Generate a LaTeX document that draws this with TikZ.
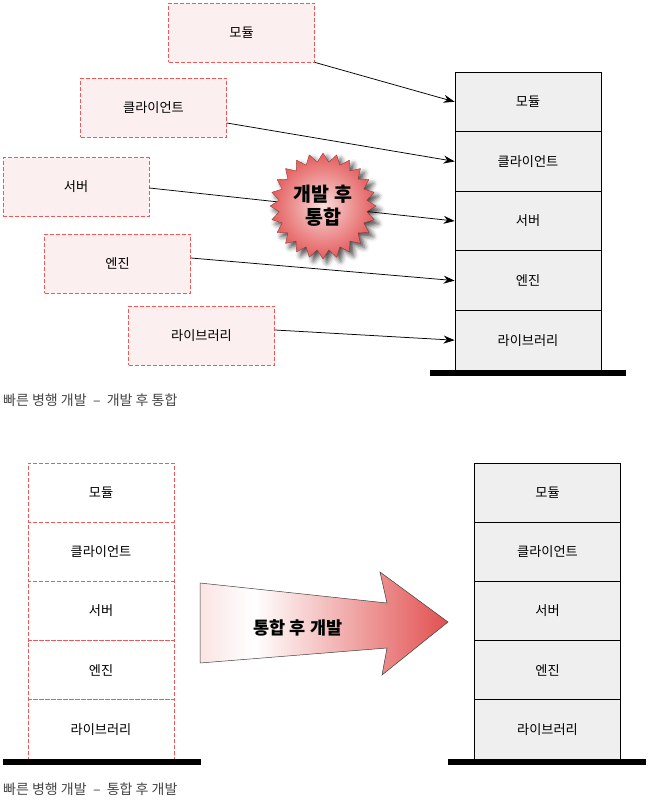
\documentclass[tikz,border=0pt]{standalone}
\usepackage{fontspec}
\setmainfont{Noto Sans CJK KR}
\usetikzlibrary{shadows.blur,arrows.meta,shapes.geometric}
\definecolor{dashred}{RGB}{235,90,90}
\definecolor{pinkfill}{RGB}{252,239,239}
\definecolor{cellgray}{RGB}{239,239,239}
\definecolor{capgray}{RGB}{70,70,70}
\definecolor{burstred}{RGB}{226,80,80}
\definecolor{arrowleft}{RGB}{251,228,228}
\definecolor{burstin}{RGB}{250,222,222}
\definecolor{burstout}{RGB}{228,92,92}
\pgfdeclarehorizontalshading{arrowshade}{100bp}{color(0bp)=(arrowleft); color(25bp)=(arrowleft); color(36bp)=(white); color(75bp)=(burstred); color(100bp)=(burstred)}
\pgfdeclareradialshading{burstshade}{\pgfpointorigin}{color(0bp)=(burstin); color(8bp)=(burstin!65!burstout); color(25bp)=(burstout); color(50bp)=(burstout)}
\begin{document}
\begin{tikzpicture}[x=1pt,y=-1pt,
  txt/.style={font=\fontsize{13.2}{15}\selectfont},
  devbox/.style={draw=dashred, dash pattern=on 4pt off 2pt, fill=pinkfill, line width=0.8pt, minimum width=146pt, minimum height=59pt, inner sep=0pt, txt},
  cell/.style={draw=black, fill=cellgray, line width=0.8pt, minimum width=146pt, minimum height=59.6pt, inner sep=0pt, txt},
  dcell/.style={draw=dashred, dash pattern=on 4pt off 2pt, fill=white, line width=0.8pt, minimum width=146pt, minimum height=59.2pt, inner sep=0pt, txt},
  bcell/.style={cell, minimum height=59.2pt},
  link/.style={-{Stealth[length=11pt,width=8pt]}, line width=0.75pt},
  basebar/.style={fill=black, draw=none, minimum width=196pt, minimum height=5.5pt, inner sep=0pt},
  caption/.style={font=\fontsize{14}{16}\selectfont, text=capgray, anchor=west, inner sep=0pt}]
\useasboundingbox (0,0) rectangle (652,803);

% ---------- top: develop then integrate ----------
\node[devbox] (m1) at (241.5,32.5) {모듈};
\node[devbox] (c1) at (153.5,107.5) {클라이언트};
\node[devbox] (v1) at (76,187) {서버};
\node[devbox] (e1) at (117.5,263.5) {엔진};
\node[devbox] (l1) at (201.5,335.5) {라이브러리};

\node[cell] (s1) at (528,101.8) {모듈};
\node[cell] (s2) at (528,161.4) {클라이언트};
\node[cell] (s3) at (528,221) {서버};
\node[cell] (s4) at (528,280.6) {엔진};
\node[cell] (s5) at (528,340.2) {라이브러리};
\node[basebar] (bar1) at (528,372.8) {};

\draw[link] (m1.south east) -- (s1.west);
\draw[link] ([yshift=-15.5pt]c1.east) -- (s2.west);
\draw[link] ([yshift=-1pt]v1.east) -- (s3.west);
\draw[link] ([yshift=5.5pt]e1.east) -- (s4.west);
\draw[link] ([yshift=5.5pt]l1.east) -- (s5.west);

\node[star, star points=24, star point ratio=1.2, minimum size=106pt, inner sep=0pt,
      shading=burstshade, draw=burstred!60!black, line width=0.3pt,
      blur shadow={shadow xshift=4pt, shadow yshift=-4pt, shadow blur radius=5pt, shadow opacity=70},
      font=\bfseries\fontsize{19.5}{23}\selectfont, align=center] (burst) at (323,206) {개발 후\\통합};

\node[caption] (cap1) at (3,400.5) {빠른 병행 개발~~–~~개발 후 통합};

% ---------- bottom: integrate then develop ----------
\node[dcell] (d1) at (101,492.6) {모듈};
\node[dcell] (d2) at (101,551.8) {클라이언트};
\node[dcell] (d3) at (101,611) {서버};
\node[dcell] (d4) at (101,670.2) {엔진};
\node[dcell] (d5) at (101,729.4) {라이브러리};
\node[basebar, minimum width=198pt] (bar2) at (102,762) {};

\node[bcell] (r1) at (547.5,492.6) {모듈};
\node[bcell] (r2) at (547.5,551.8) {클라이언트};
\node[bcell] (r3) at (547.5,611) {서버};
\node[bcell] (r4) at (547.5,670.2) {엔진};
\node[bcell] (r5) at (547.5,729.4) {라이브러리};
\node[basebar, minimum width=198pt] (bar3) at (547,762) {};

\path[draw=black!75, line width=0.5pt, shading=arrowshade]
  (200,583) -- (387,603) -- (380,572) -- (448,622) -- (382,675) -- (387,648) -- (200,663) -- cycle;
\node[font=\bfseries\fontsize{17.5}{20}\selectfont] (arrowlabel) at (298,628) {통합 후 개발};

\node[caption] (cap2) at (3,789) {빠른 병행 개발~~–~~통합 후 개발};
\end{tikzpicture}
\end{document}
